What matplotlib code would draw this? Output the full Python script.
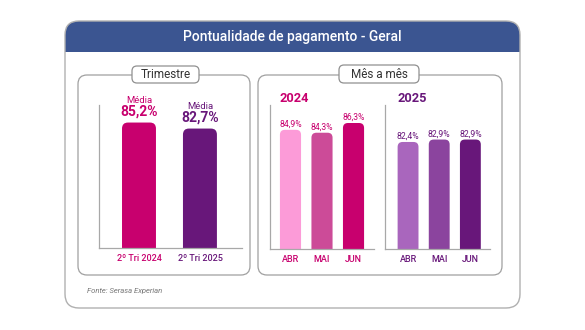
import matplotlib
matplotlib.use('Agg')
import matplotlib.pyplot as plt
from matplotlib.patches import FancyBboxPatch, Rectangle
from matplotlib.transforms import Affine2D

# ---------------- data ----------------
title = "Pontualidade de pagamento - Geral"
tri_labels = ["2º Tri 2024", "2º Tri 2025"]
tri_values = [85.2, 82.7]
months = ["ABR", "MAI", "JUN"]
values_2024 = [84.9, 84.3, 86.3]
values_2025 = [82.4, 82.9, 82.9]
source = "Fonte: Serasa Experian"

MAG = "#c8006e"
PUR = "#68177a"
tri_colors = [MAG, PUR]
colors_2024 = ["#fc9bd8", "#cc4b98", MAG]
colors_2025 = ["#a966bd", "#8b449e", PUR]

W, H = 585, 330
plt.rcParams['font.family'] = ['Roboto', 'DejaVu Sans']
fig = plt.figure(figsize=(W / 100, H / 100), dpi=100)
fig.patch.set_facecolor("white")
px = Affine2D().scale(1 / W, -1 / H).translate(0, 1) + fig.transFigure


def rbox(x0, y0, x1, y1, r, fc, ec, lw, z):
    if r > 0:
        p = FancyBboxPatch((x0, y0), x1 - x0, y1 - y0,
                           boxstyle=f"round,pad=0,rounding_size={r}",
                           fc=fc, ec=ec, lw=lw, transform=px, zorder=z)
    else:
        p = Rectangle((x0, y0), x1 - x0, y1 - y0, fc=fc, ec=ec, lw=lw,
                      transform=px, zorder=z)
    fig.add_artist(p)
    return p


def ftext(x, y, s, **kw):
    fig.text(x / W, 1 - y / H, s, **kw)


# card
rbox(65, 21, 520, 308, 14, "white", "none", 0, -5)
rbox(65, 21, 520, 52, 14, "#3b5591", "none", 0, -4)
rbox(65, 36, 520, 52, 0, "#3b5591", "none", 0, -4)
rbox(65, 21, 520, 308, 14, "none", "#b0b0b0", 1.0, -3)
ftext(292, 41.5, title, color="white", fontsize=10, fontweight="medium",
      ha="center", va="baseline")

# panels
rbox(78, 75, 250, 275, 9, "white", "#a0a0a0", 0.9, -2)
rbox(258, 75, 502, 275, 9, "white", "#a0a0a0", 0.9, -2)
rbox(132, 66, 199, 83, 5, "white", "#909090", 0.9, -1)
rbox(339, 65, 419, 83, 5, "white", "#909090", 0.9, -1)
ftext(165.5, 78.5, "Trimestre", color="#333333", fontsize=8.5,
      ha="center", va="baseline")
ftext(379, 78.5, "Mês a mês", color="#333333", fontsize=8.5,
      ha="center", va="baseline")

ftext(87, 293, source, color="#777777", fontsize=5.5, style="italic",
      ha="left", va="baseline")


def make_axes(x0, y0, x1, y1, xlim, ylim):
    ax = fig.add_axes([x0 / W, 1 - y1 / H, (x1 - x0) / W, (y1 - y0) / H])
    ax.set_facecolor("none")
    ax.set_xlim(*xlim)
    ax.set_ylim(*ylim)
    for s in ["top", "right"]:
        ax.spines[s].set_visible(False)
    for s in ["left", "bottom"]:
        ax.spines[s].set_color("#a8a8a8")
        ax.spines[s].set_linewidth(0.9)
    ax.set_yticks([])
    ax.tick_params(axis="x", length=0, pad=4)
    ax._pxw = x1 - x0
    ax._pxh = y1 - y0
    return ax


def rounded_bars(ax, xs, vals, width, colors, r_px):
    bars = ax.bar(xs, vals, width=width, color=colors)
    xl = ax.get_xlim()
    yl = ax.get_ylim()
    rx = r_px * (xl[1] - xl[0]) / ax._pxw
    ry = r_px * (yl[1] - yl[0]) / ax._pxh
    for rect, c in zip(bars, colors):
        p = FancyBboxPatch((rect.get_x(), rect.get_y()), rect.get_width(),
                           rect.get_height(),
                           boxstyle=f"round,pad=0,rounding_size={rx}",
                           mutation_aspect=ry / rx, fc=c, ec="none")
        ax.add_patch(p)
        rect.remove()


# Trimestre
ax1 = make_axes(99, 105, 242, 248, (-0.656, 1.69), (33, 92.5))
x1 = list(range(len(tri_values)))
rounded_bars(ax1, x1, tri_values, 0.557, tri_colors, 6)
ax1.set_xticks(x1, tri_labels, fontsize=6.5, fontweight="medium")
for lbl, c in zip(ax1.get_xticklabels(), tri_colors):
    lbl.set_color(c)
for xi, v, c in zip(x1, tri_values, tri_colors):
    ax1.annotate("Média", (xi, v), xytext=(0, 14), textcoords="offset points",
                 ha="center", va="baseline", fontsize=6.8, color=c)
    ax1.annotate(f"{v:.1f}%".replace(".", ","), (xi, v), xytext=(0, 5),
                 textcoords="offset points", ha="center", va="baseline",
                 fontsize=10, fontweight="bold", color=c)

# Mês a mês
for (x0, x1p, xlim, vals, cols, year, tc, yx) in [
        (270, 374, (-0.65, 2.65), values_2024, colors_2024, "2024", MAG, 280),
        (385, 490, (-0.74, 2.63), values_2025, colors_2025, "2025", PUR, 398)]:
    ax = make_axes(x0, 105, x1p, 249, xlim, (60.4, 90))
    xs = list(range(len(vals)))
    rounded_bars(ax, xs, vals, 0.67, cols, 5)
    ax.set_xticks(xs, months, fontsize=6.5, fontweight="medium", color=tc)
    for xi, v in zip(xs, vals):
        ax.annotate(f"{v:.1f}%".replace(".", ","), (xi, v), xytext=(0, 2.2),
                    textcoords="offset points", ha="center", va="baseline",
                    fontsize=6.2, color=tc)
    ftext(yx, 102.5, year, color=tc, fontsize=9.2, fontweight="bold",
          ha="left", va="baseline")

fig.savefig("out.png", dpi=100)
